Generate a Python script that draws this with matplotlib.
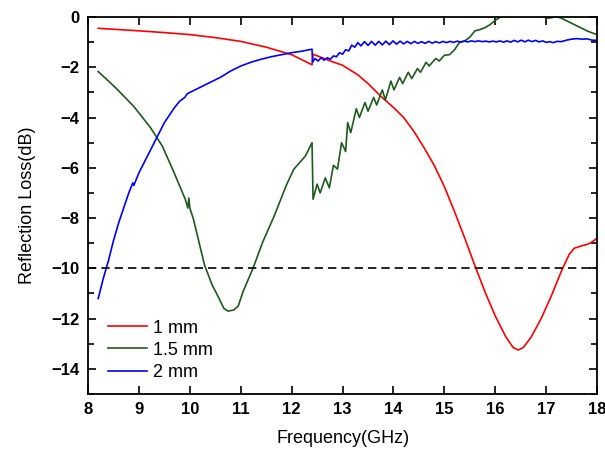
import numpy as np
import matplotlib.pyplot as plt
from matplotlib.ticker import MultipleLocator

plt.rcParams['font.family'] = ['Liberation Sans', 'DejaVu Sans']

# 1 mm
f_1mm = [8.2, 8.6, 9.0, 9.5, 10.0, 10.5, 11.0, 11.5, 12.0, 12.2, 12.4,
         12.42, 12.6, 12.8, 13.0, 13.3, 13.5, 13.75, 14.0, 14.2, 14.4, 14.6,
         14.8, 15.0, 15.2, 15.4, 15.6, 15.8, 16.0, 16.2, 16.35, 16.45, 16.55,
         16.7, 16.9, 17.1, 17.3, 17.45, 17.55, 17.7, 17.8, 17.9, 18.0]
rl_1mm = [-0.45, -0.5, -0.55, -0.62, -0.7, -0.82, -0.97, -1.2, -1.5, -1.7, -1.9,
          -1.48, -1.62, -1.78, -1.92, -2.3, -2.65, -3.15, -3.6, -4.0, -4.55, -5.2,
          -5.9, -6.75, -7.75, -8.8, -9.9, -10.95, -11.9, -12.7, -13.15, -13.25, -13.15,
          -12.75, -12.0, -11.1, -10.1, -9.45, -9.2, -9.1, -9.05, -8.95, -8.8]

# 1.5 mm
f_15mm = [8.2, 8.55, 8.9, 9.23, 9.46, 9.69, 9.91, 9.96, 9.98, 10.0, 10.07,
          10.29, 10.44, 10.55, 10.67, 10.75, 10.86, 10.95, 11.05, 11.24, 11.43,
          11.66, 11.89, 12.04, 12.27, 12.4,
          12.42, 12.5, 12.56, 12.66, 12.74, 12.82, 12.9, 12.98, 13.06, 13.1,
          13.16, 13.27, 13.33, 13.44, 13.5, 13.61, 13.67, 13.78, 13.84, 13.95,
          14.01, 14.12, 14.18, 14.29, 14.36, 14.47, 14.53, 14.64, 14.7, 14.83,
          14.9, 15.0, 15.1, 15.2, 15.3, 15.4, 15.5, 15.6, 15.7, 15.8, 15.9,
          16.0, 16.1, 16.2, 16.4, 16.6, 16.8, 16.95, 17.05, 17.2, 17.3, 17.4,
          17.5, 17.6, 17.7, 17.8, 17.9, 18.0]
rl_15mm = [-2.17, -2.83, -3.56, -4.41, -5.14, -6.19, -7.25, -7.6, -7.2, -7.6, -8.04,
           -9.88, -10.67, -11.1, -11.6, -11.7, -11.66, -11.5, -10.9, -10.0, -8.96,
           -7.9, -6.72, -6.06, -5.53, -5.0,
           -7.25, -6.65, -7.0, -6.4, -6.8, -5.9, -6.05, -5.0, -5.35, -4.2,
           -4.6, -3.65, -4.0, -3.4, -3.75, -3.2, -3.5, -2.9, -3.3, -2.55,
           -2.9, -2.4, -2.65, -2.2, -2.45, -2.05, -2.2, -1.8, -1.95, -1.65,
           -1.75, -1.52, -1.5, -1.3, -1.0, -0.95, -0.8, -0.55, -0.5, -0.42, -0.3,
           -0.13, 0.0, 0.1, 0.2, 0.2, 0.1, 0.0, -0.05, 0.02, -0.05, -0.15,
           -0.25, -0.35, -0.45, -0.55, -0.63, -0.7]

# 2 mm
f_2mm = [8.2, 8.3, 8.4, 8.5, 8.6, 8.7, 8.8, 8.88, 8.9, 9.0, 9.1, 9.2, 9.3, 9.4,
         9.5, 9.6, 9.7, 9.8, 9.9, 9.95, 10.0, 10.2, 10.4, 10.6, 10.8, 11.0, 11.2,
         11.4, 11.6, 11.8, 12.0, 12.2, 12.4,
         12.41, 12.46, 12.52, 12.58, 12.64, 12.70, 12.76, 12.82, 12.88, 12.94,
         13.0, 13.06, 13.12, 13.18, 13.24, 13.30, 13.36, 13.43, 13.50, 13.57,
         13.64, 13.71, 13.78, 13.85, 13.92, 13.99, 14.06, 14.13, 14.20, 14.27,
         14.34, 14.41, 14.48, 14.55, 14.62, 14.69, 14.76, 14.83, 14.90, 14.97,
         15.04, 15.11, 15.18, 15.25, 15.32, 15.39, 15.46, 15.53, 15.60, 15.67,
         15.74, 15.81, 15.88, 15.95, 16.02, 16.09, 16.16, 16.23, 16.30, 16.37,
         16.44, 16.51, 16.58, 16.65, 16.72, 16.79, 16.86, 16.93, 17.0, 17.07,
         17.14, 17.21, 17.3, 17.4, 17.5, 17.6, 17.7, 17.8, 17.9, 18.0]
rl_2mm = [-11.2, -10.4, -9.7, -8.9, -8.2, -7.6, -7.0, -6.6, -6.7, -6.2, -5.8, -5.4,
          -5.0, -4.6, -4.2, -3.9, -3.6, -3.35, -3.2, -3.05, -3.0, -2.8, -2.6, -2.4,
          -2.15, -1.95, -1.8, -1.68, -1.58, -1.5, -1.42, -1.36, -1.28,
          -1.8, -1.65, -1.75, -1.62, -1.72, -1.62, -1.68, -1.55, -1.58, -1.42,
          -1.48, -1.3, -1.35, -1.12, -1.2, -1.02, -1.15, -0.98, -1.13, -0.97,
          -1.12, -0.97, -1.11, -0.96, -1.1, -0.95, -1.08, -0.96, -1.07, -0.97,
          -1.06, -0.97, -1.05, -0.98, -1.05, -0.97, -1.04, -0.98, -1.03, -0.97,
          -1.02, -0.97, -1.01, -0.96, -1.0, -0.96, -0.99, -0.95, -0.98, -0.95,
          -0.98, -0.96, -0.99, -0.96, -0.99, -0.95, -1.0, -0.95, -1.0, -0.93,
          -0.99, -0.92, -0.99, -0.92, -0.98, -0.93, -0.99, -0.95, -1.01, -0.98,
          -1.02, -0.97, -0.98, -0.92, -0.88, -0.86, -0.88, -0.87, -0.92, -0.93]

fig = plt.figure(figsize=(6.05, 4.5), dpi=100)
ax = fig.add_axes([0.1455, 0.1244, 0.8415, 0.8378])

ax.plot(f_1mm, rl_1mm, color='#ff0000', lw=1.2, label='1 mm')
ax.plot(f_15mm, rl_15mm, color='#1e5a1e', lw=1.2, label='1.5 mm')
ax.plot(f_2mm, rl_2mm, color='#0000ff', lw=1.2, label='2 mm')
ax.axhline(-10, color='black', ls=(0, (5, 3)), lw=1.2)

ax.set_xlim(8, 18)
ax.set_ylim(-15, 0)
ax.xaxis.set_major_locator(MultipleLocator(1))
ax.yaxis.set_major_locator(MultipleLocator(2))
ax.yaxis.set_minor_locator(MultipleLocator(1))
ax.tick_params(which='both', direction='in', top=True, right=True, labelsize=12)
ax.tick_params(which='major', length=6, width=1.2)
ax.tick_params(which='minor', length=4, width=1.2)
ax.tick_params(axis='x', pad=6)
ax.tick_params(axis='y', pad=6)
for lab in ax.get_xticklabels() + ax.get_yticklabels():
    lab.set_fontweight('bold')
for s in ax.spines.values():
    s.set_linewidth(1.3)

ax.set_xlabel('Frequency(GHz)', fontsize=13, labelpad=9)
ax.set_ylabel('Reflection Loss(dB)', fontsize=13, labelpad=11)

ax.legend(loc='lower left', bbox_to_anchor=(0.039, 0.035), frameon=False,
          fontsize=13, handlelength=2.15, handletextpad=0.33, labelspacing=0.28,
          borderpad=0, borderaxespad=0)

fig.savefig('out.png', dpi=100)
